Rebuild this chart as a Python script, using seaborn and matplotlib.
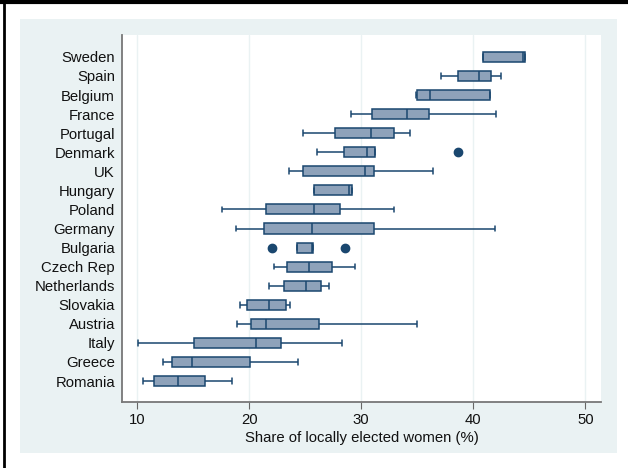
import matplotlib
matplotlib.use("Agg")
from matplotlib import pyplot as plt
from matplotlib.patches import Rectangle
from matplotlib.lines import Line2D
import pandas as pd
import seaborn as sns

countries = ["Sweden", "Spain", "Belgium", "France", "Portugal", "Denmark", "UK",
             "Hungary", "Poland", "Germany", "Bulgaria", "Czech Rep", "Netherlands",
             "Slovakia", "Austria", "Italy", "Greece", "Romania"]
# lowest point, lower quartile, median, upper quartile, highest point
low = [40.9, 37.1, 34.9, 29.05, 24.8, 26.05, 23.6, 25.75, 17.55, 18.8, 22.0,
       22.25, 21.75, 19.15, 18.95, 10.05, 12.3, 10.5]
q1 = [40.9, 38.6, 34.95, 31.0, 27.7, 28.5, 24.85, 25.75, 21.5, 21.3, 24.3,
      23.4, 23.15, 19.85, 20.15, 15.1, 13.15, 11.5]
med = [44.4, 40.5, 36.15, 34.1, 30.85, 30.55, 30.35, 28.9, 25.75, 25.6, 25.6,
       25.35, 25.1, 21.75, 21.5, 20.6, 14.9, 13.7]
q3 = [44.6, 41.55, 41.5, 36.05, 32.9, 31.2, 31.15, 29.2, 28.1, 31.15, 25.7,
      27.4, 26.45, 23.25, 26.2, 22.85, 20.05, 16.05]
high = [44.6, 42.5, 41.5, 42.05, 34.4, 38.6, 36.45, 29.2, 32.9, 41.9, 28.6,
        29.45, 27.1, 23.65, 35.0, 28.3, 24.4, 18.5]

rows = []
for i, c in enumerate(countries):
    for v in (low[i], q1[i], med[i], q3[i], high[i]):
        rows.append({"country": c, "share": v})
df = pd.DataFrame(rows)

navy = "#1a476f"
fill = "#8ea2ba"
bg = "#eaf2f3"

sns.set_style("white")
plt.rcParams["font.family"] = ["Liberation Sans", "DejaVu Sans"]

fig = plt.figure(figsize=(6.28, 4.68), dpi=100)
fig.patches.append(Rectangle((20 / 628, 1 - 453 / 468), 597 / 628, 434 / 468,
                             transform=fig.transFigure, facecolor=bg,
                             edgecolor="none", zorder=-5))
fig.lines.append(Line2D([4 / 628, 4 / 628], [0, 1], transform=fig.transFigure,
                        color="black", linewidth=2))
fig.lines.append(Line2D([0, 1], [1 - 2 / 468, 1 - 2 / 468], transform=fig.transFigure,
                        color="black", linewidth=3))

ax = fig.add_axes([122 / 628, 1 - 402 / 468, 479 / 628, 367 / 468])
ax.set_facecolor("white")
for x in [10, 20, 30, 40, 50]:
    ax.axvline(x, color=bg, linewidth=1, zorder=0)

sns.boxplot(data=df, x="share", y="country", order=countries, orient="h",
            color=fill, saturation=1, linecolor=navy, linewidth=1.1, width=0.53,
            whis=1.5, fliersize=6,
            flierprops=dict(marker="o", markerfacecolor=navy, markeredgecolor=navy),
            capwidths=0.3, ax=ax)

ax.set_xlim(8.66, 51.4)
ax.set_ylim(17 + 1.1, -1.15)
ax.set_xticks([10, 20, 30, 40, 50])
ax.set_xlabel("Share of locally elected women (%)", fontsize=10.7, labelpad=3,
              color="#111111")
ax.set_ylabel("")
ax.tick_params(axis="x", length=5, color="#666666", labelsize=10.7, pad=3,
               bottom=True, labelcolor="#111111")
ax.tick_params(axis="y", length=0, labelsize=10.7, pad=5, labelcolor="#111111")
for s in ["top", "right"]:
    ax.spines[s].set_visible(False)
for s in ["left", "bottom"]:
    ax.spines[s].set_color("#777777")
    ax.spines[s].set_linewidth(1.3)

fig.savefig("out.png", dpi=100)
